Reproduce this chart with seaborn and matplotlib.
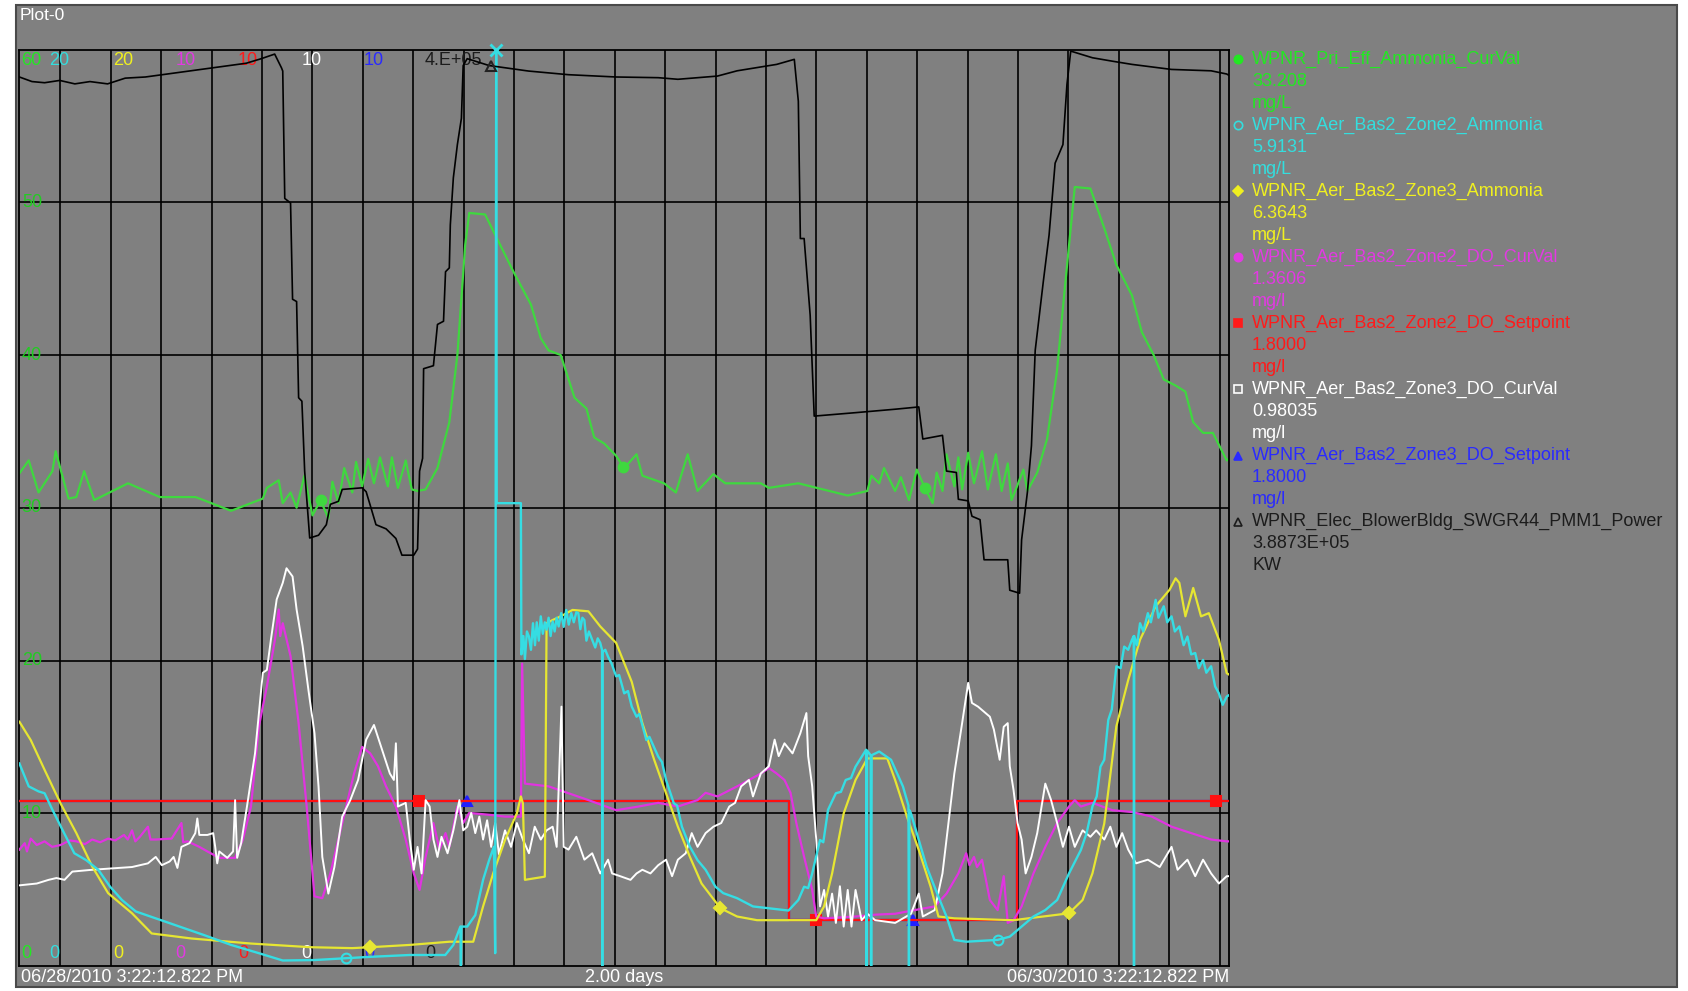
import numpy as np
import pandas as pd
import matplotlib.pyplot as plt
import seaborn as sns
from matplotlib.lines import Line2D
from matplotlib.patches import Rectangle
from matplotlib.transforms import blended_transform_factory

plt.rcParams['font.family'] = ['Liberation Sans', 'DejaVu Sans']

# time window of the trend, x axis is hours since the start
start_label = '06/28/2010 3:22:12.822 PM'
end_label = '06/30/2010 3:22:12.822 PM'
span_label = '2.00 days'
span_hours = 48
first_grid_hour = (17 * 3600 - (15 * 3600 + 22 * 60 + 12.822)) / 3600  # 5:00 PM

# (hours, value)
pri_ammonia = [(0, 32.25), (0.37, 33.1), (0.76, 31.0), (1.31, 32.4), (1.44, 33.7), (1.95, 30.6), (2.26, 30.7),
               (2.57, 32.4), (2.97, 30.5), (4.31, 31.6), (5.57, 30.7), (6.99, 30.7), (8.4, 29.8), (9.66, 30.6),
               (9.82, 31.3), (10.29, 31.8), (10.45, 30.3), (10.76, 31.0), (11.0, 30.0), (11.31, 32.1), (11.63, 29.5),
               (11.95, 30.5), (12.26, 29.3), (12.42, 31.7), (12.66, 30.3), (12.89, 32.6), (13.21, 31.0), (13.36, 33.0),
               (13.6, 31.4), (13.84, 33.2), (14.07, 31.6), (14.31, 33.3), (14.62, 31.4), (14.78, 33.3), (15.02, 31.3),
               (15.33, 33.1), (15.57, 31.2), (15.8, 31.1), (16.12, 31.2), (16.59, 32.6), (17.06, 35.6), (17.38, 40.0),
               (17.69, 47.2), (17.85, 49.3), (18.48, 49.2), (18.96, 47.6), (19.59, 45.5), (20.3, 43.3), (20.69, 41.1),
               (21.0, 40.3), (21.48, 40.0), (22.03, 37.2), (22.5, 36.5), (22.81, 34.6), (23.21, 34.2), (23.68, 33.4),
               (24.0, 32.6), (24.49, 33.5), (24.72, 32.1), (25.58, 31.6), (26.05, 31.0), (26.52, 33.5), (26.91, 31.1),
               (27.54, 32.2), (28.01, 31.6), (29.42, 31.6), (29.74, 31.3), (30.91, 31.6), (32.87, 30.8), (33.65, 31.1),
               (33.81, 32.1), (34.12, 31.6), (34.31, 32.6), (34.75, 31.1), (34.98, 32.0), (35.3, 30.5), (35.61, 32.5),
               (35.93, 31.3), (36.24, 30.3), (36.4, 32.3), (36.63, 31.1), (36.79, 33.5), (37.1, 31.4), (37.26, 33.3),
               (37.41, 31.2), (37.65, 33.6), (37.88, 31.6), (38.2, 33.7), (38.43, 31.2), (38.75, 33.5), (38.98, 31.1),
               (39.22, 32.9), (39.37, 30.5), (39.61, 31.5), (39.84, 32.5), (40.0, 31.1), (40.39, 32.3), (40.78, 34.5),
               (41.17, 38.9), (41.48, 44.3), (41.88, 51.0), (42.5, 50.9), (43.05, 48.3), (43.53, 45.9), (44.15, 43.9),
               (44.54, 41.5), (45.01, 40.0), (45.41, 38.4), (45.88, 38.0), (46.27, 37.6), (46.58, 35.6), (46.97, 34.9),
               (47.36, 34.9), (47.91, 33.1), (48.0, 33.2)]

z2_ammonia = [(0, 4.42), (0.37, 3.92), (0.76, 3.81), (1.0, 3.77), (1.31, 3.41), (1.71, 2.97), (2.18, 2.46), (2.65, 2.31),
              (3.13, 2.10), (3.6, 1.73), (4.07, 1.44), (4.62, 1.19), (5.41, 1.04), (6.35, 0.86), (7.3, 0.68), (8.4, 0.46),
              (9.5, 0.28), (10.45, 0.12), (11.71, 0.13), (12.97, 0.17), (13.92, 0.20), (15.49, 0.24), (16.9, 0.24),
              (17.22, 0.46), (17.5, 0.86), (17.52, 0.0), (17.54, 0.86), (17.77, 0.86), (18.09, 1.11), (18.4, 1.88),
              (18.64, 2.31), (18.83, 2.6), (18.88, 0.28), (18.92, 20.0), (18.94, 10.1), (19.9, 10.1), (19.92, 6.8),
              (20.0, 7.2), (20.06, 6.7), (20.14, 7.3), (20.22, 7.19), (20.3, 6.9), (20.38, 7.48), (20.46, 7.0),
              (20.53, 7.5), (20.61, 7.1), (20.69, 7.63), (20.77, 7.25), (20.85, 7.5), (20.92, 7.34), (21.0, 7.6),
              (21.08, 7.2), (21.16, 7.52), (21.24, 7.3), (21.32, 7.6), (21.4, 7.41), (21.5, 7.7), (21.6, 7.4),
              (21.7, 7.77), (21.8, 7.45), (21.9, 7.7), (22.0, 7.5), (22.1, 7.72), (22.18, 7.70), (22.26, 7.35),
              (22.34, 7.6), (22.42, 7.55), (22.5, 7.1), (22.6, 7.3), (22.73, 7.12), (22.85, 6.95), (22.95, 7.15),
              (23.05, 7.05), (23.12, 6.9), (23.13, 0.0), (23.14, 6.85), (23.25, 6.9), (23.36, 6.75), (23.5, 6.6),
              (23.68, 6.32), (23.8, 6.35), (24.0, 5.95), (24.15, 6.0), (24.3, 5.66), (24.49, 5.44), (24.6, 5.5),
              (24.88, 4.93), (25.0, 5.0), (25.35, 4.57), (25.5, 4.45), (25.66, 4.06), (25.97, 3.55), (26.1, 3.5),
              (26.29, 3.04), (26.6, 2.61), (26.91, 2.31), (27.23, 2.10), (27.62, 1.73), (27.93, 1.59), (28.48, 1.48),
              (29.11, 1.30), (30.05, 1.24), (30.52, 1.21), (30.91, 1.44), (31.14, 1.73), (31.3, 1.7), (31.46, 2.02),
              (31.77, 2.75), (31.9, 2.7), (32.09, 3.41), (32.4, 3.77), (32.6, 3.8), (32.79, 4.06), (33.0, 4.1),
              (33.18, 4.35), (33.6, 4.72), (33.62, 0.0), (33.64, 4.7), (33.78, 4.6), (33.8, 0.0), (33.82, 4.6),
              (34.12, 4.68), (34.59, 4.50), (35.06, 3.92), (35.28, 3.5), (35.3, 0.0), (35.32, 3.4), (35.38, 3.33),
              (35.69, 2.75), (36.0, 2.17), (36.47, 1.51), (36.79, 1.08), (37.1, 0.57), (37.57, 0.53), (38.82, 0.57),
              (39.3, 0.64), (39.77, 0.86), (40.24, 1.08), (40.71, 1.22), (41.18, 1.44), (41.65, 2.02), (42.12, 2.53),
              (42.35, 2.9), (42.58, 3.48), (42.75, 3.7), (42.9, 4.35), (43.05, 4.5), (43.21, 5.37), (43.35, 5.6),
              (43.53, 6.54), (43.7, 6.5), (43.84, 6.97), (44.0, 6.9), (44.15, 7.12), (44.22, 7.2), (44.23, 0.0),
              (44.24, 7.2), (44.35, 7.0), (44.47, 7.48), (44.6, 7.3), (44.78, 7.70), (44.9, 7.5), (45.09, 7.99),
              (45.2, 7.6), (45.41, 7.85), (45.55, 7.5), (45.72, 7.63), (45.85, 7.3), (46.03, 7.41), (46.2, 7.0),
              (46.35, 7.19), (46.5, 6.8), (46.66, 6.83), (46.8, 6.5), (46.97, 6.68), (47.1, 6.4), (47.29, 6.54),
              (47.45, 6.1), (47.6, 5.95), (47.75, 5.7), (47.91, 5.88), (48.0, 5.91)]

z3_ammonia = [(0, 5.33), (0.45, 4.93), (1.0, 4.28), (1.63, 3.55), (2.26, 2.90), (2.89, 2.17), (3.52, 1.59), (4.47, 1.15),
              (5.25, 0.71), (6.83, 0.60), (9.19, 0.49), (11.55, 0.41), (13.21, 0.39), (13.92, 0.41), (15.49, 0.46),
              (17.07, 0.53), (18.01, 0.53), (18.4, 1.30), (18.8, 2.02), (19.27, 2.75), (19.74, 3.33), (19.9, 3.70),
              (19.98, 3.55), (20.06, 1.88), (20.85, 1.95), (20.92, 7.48), (21.16, 7.55), (21.48, 7.63), (21.95, 7.77),
              (22.58, 7.74), (23.05, 7.41), (23.68, 7.05), (24.3, 6.2), (24.72, 5.30), (25.19, 4.50), (25.66, 3.77),
              (26.13, 3.04), (26.6, 2.39), (27.07, 1.80), (27.82, 1.26), (28.48, 1.08), (29.27, 1.00), (31.62, 1.00),
              (31.93, 1.30), (32.25, 2.02), (32.71, 3.33), (33.18, 4.06), (33.65, 4.53), (34.44, 4.53), (34.75, 4.06),
              (35.22, 3.26), (35.69, 2.53), (36.16, 1.73), (36.47, 1.08), (37.1, 1.04), (39.45, 1.00), (41.65, 1.15),
              (42.19, 1.44), (42.58, 2.02), (43.05, 3.11), (43.53, 5.23), (44.0, 6.24), (44.47, 7.12), (45.09, 7.85),
              (45.64, 8.21), (45.88, 8.46), (46.03, 8.36), (46.27, 7.63), (46.58, 8.25), (46.89, 7.63), (47.2, 7.70),
              (47.6, 7.12), (47.91, 6.39), (48.0, 6.36)]

z2_do = [(0, 1.27), (0.21, 1.34), (0.3, 1.25), (0.45, 1.39), (0.69, 1.32), (1.0, 1.36), (1.3, 1.3), (1.63, 1.32),
         (2.0, 1.37), (2.26, 1.36), (2.6, 1.33), (2.89, 1.38), (3.2, 1.35), (3.52, 1.39), (3.8, 1.37), (4.15, 1.43),
         (4.3, 1.38), (4.47, 1.48), (4.6, 1.36), (4.78, 1.41), (5.1, 1.52), (5.2, 1.38), (5.41, 1.38), (6.04, 1.39),
         (6.43, 1.56), (6.5, 1.35), (6.67, 1.36), (7.14, 1.30), (7.46, 1.25), (7.93, 1.18), (8.56, 1.18), (8.87, 1.38),
         (9.19, 1.74), (9.5, 2.61), (9.82, 3.05), (10.14, 3.56), (10.29, 3.89), (10.35, 3.6), (10.45, 3.74),
         (10.76, 3.38), (11.08, 2.65), (11.4, 1.74), (11.71, 0.76), (12.02, 0.74), (12.34, 1.01), (12.81, 1.56),
         (13.28, 2.10), (13.6, 2.39), (13.92, 2.32), (14.23, 2.18), (14.55, 1.96), (14.94, 1.74), (15.33, 1.38),
         (15.65, 1.01), (15.88, 0.83), (16.12, 1.19), (16.43, 1.56), (16.67, 1.27), (16.91, 1.45), (17.06, 1.30),
         (17.38, 1.74), (17.61, 1.56), (17.85, 1.67), (18.64, 1.65), (19.27, 1.63), (19.9, 1.63), (19.95, 3.30),
         (20.06, 1.99), (21.0, 1.96), (22.58, 1.81), (23.68, 1.70), (24.57, 1.74), (25.35, 1.78), (26.13, 1.74),
         (26.91, 1.81), (27.23, 1.89), (27.7, 1.85), (28.48, 1.96), (28.95, 2.03), (29.42, 2.10), (29.74, 2.16),
         (30.05, 2.10), (30.36, 2.03), (30.6, 1.89), (30.83, 1.56), (31.14, 1.19), (31.46, 0.83), (31.62, 0.54),
         (31.93, 0.52), (33.18, 0.54), (33.96, 0.56), (34.75, 0.57), (35.53, 0.61), (36.32, 0.65), (36.79, 0.79),
         (37.26, 1.01), (37.57, 1.23), (37.7, 1.1), (37.88, 1.19), (38.0, 1.08), (38.2, 1.16), (38.51, 0.72),
         (38.82, 0.61), (39.06, 0.98), (39.22, 0.47), (39.45, 0.50), (39.77, 0.65), (40.24, 1.01), (40.71, 1.30),
         (41.18, 1.56), (41.65, 1.74), (41.88, 1.81), (42.12, 1.74), (42.58, 1.78), (43.37, 1.70), (44.15, 1.68),
         (44.94, 1.63), (45.72, 1.52), (46.5, 1.45), (47.29, 1.38), (47.91, 1.36), (48.0, 1.36)]

z2_setpoint = [(0, 1.8), (30.55, 1.8), (30.55, 0.5), (39.58, 0.5), (39.58, 1.8), (48.0, 1.8)]
z3_setpoint = [(0, 1.8), (30.55, 1.8), (30.55, 0.5), (39.58, 0.5), (39.58, 1.8), (48.0, 1.8)]

z3_do = [(0, 0.88), (0.69, 0.90), (1.16, 0.94), (1.47, 0.96), (1.79, 0.94), (2.1, 1.03), (2.89, 1.05), (4.47, 1.08),
         (5.1, 1.12), (5.41, 1.19), (5.65, 1.10), (5.96, 1.14), (6.12, 1.19), (6.27, 1.07), (6.43, 1.30), (6.75, 1.34),
         (6.98, 1.45), (7.06, 1.61), (7.14, 1.43), (7.46, 1.43), (7.69, 1.45), (7.77, 1.30), (7.85, 1.12), (7.93, 1.25),
         (8.25, 1.18), (8.48, 1.25), (8.56, 1.81), (8.64, 1.18), (8.8, 1.34), (9.03, 1.74), (9.35, 2.32), (9.66, 3.20),
         (9.82, 3.23), (9.98, 3.56), (10.21, 4.00), (10.45, 4.18), (10.6, 4.34), (10.84, 4.25), (11.0, 3.89),
         (11.24, 3.49), (11.47, 3.01), (11.71, 2.54), (11.87, 1.96), (12.02, 1.19), (12.26, 0.79), (12.5, 1.08),
         (12.81, 1.63), (13.13, 1.81), (13.44, 2.03), (13.76, 2.47), (14.07, 2.63), (14.39, 2.36), (14.7, 2.10),
         (14.86, 2.03), (14.94, 2.43), (15.02, 1.74), (15.33, 1.78), (15.49, 1.38), (15.65, 1.05), (15.8, 1.30),
         (15.96, 1.01), (16.12, 1.81), (16.28, 1.74), (16.43, 1.38), (16.59, 1.19), (16.75, 1.41), (16.99, 1.23),
         (17.22, 1.48), (17.46, 1.81), (17.61, 1.48), (17.77, 1.52), (17.93, 1.67), (18.09, 1.45), (18.25, 1.63),
         (18.4, 1.38), (18.56, 1.59), (18.72, 1.30), (18.88, 1.56), (19.03, 1.22), (19.27, 1.48), (19.51, 1.30),
         (19.74, 1.56), (19.98, 1.38), (20.22, 1.23), (20.45, 1.52), (20.69, 1.38), (20.92, 1.48), (21.16, 1.52),
         (21.32, 1.30), (21.51, 2.83), (21.6, 1.30), (21.79, 1.27), (22.1, 1.41), (22.42, 1.16), (22.73, 1.23),
         (23.05, 1.01), (23.36, 1.16), (23.52, 1.01), (23.84, 0.98), (24.25, 0.94), (24.49, 1.01), (24.72, 1.05),
         (25.04, 1.01), (25.35, 1.10), (25.66, 1.16), (25.9, 0.98), (26.13, 1.16), (26.44, 1.23), (26.68, 1.45),
         (26.91, 1.30), (27.23, 1.45), (27.54, 1.52), (27.85, 1.56), (28.17, 1.74), (28.4, 1.78), (28.64, 1.96),
         (28.95, 2.03), (29.11, 1.85), (29.42, 2.10), (29.74, 2.18), (29.97, 2.47), (30.13, 2.29), (30.36, 2.43),
         (30.68, 2.32), (30.99, 2.54), (31.23, 2.76), (31.3, 2.29), (31.46, 1.96), (31.62, 1.38), (31.77, 0.65),
         (31.93, 0.83), (32.09, 0.54), (32.25, 0.79), (32.4, 0.47), (32.56, 0.87), (32.71, 0.43), (32.87, 0.83),
         (33.02, 0.43), (33.18, 0.83), (33.42, 0.50), (33.65, 0.57), (33.96, 0.50), (34.75, 0.47), (35.38, 0.57),
         (35.69, 0.79), (35.85, 0.54), (36.32, 0.61), (36.63, 1.01), (37.1, 2.10), (37.41, 2.65), (37.65, 3.09),
         (37.8, 2.87), (38.04, 2.83), (38.51, 2.72), (38.67, 2.58), (38.9, 2.25), (39.06, 2.61), (39.22, 2.65),
         (39.3, 2.18), (39.45, 1.92), (39.61, 1.56), (39.77, 1.38), (39.93, 1.01), (40.16, 1.19), (40.39, 1.45),
         (40.71, 1.99), (40.94, 1.81), (41.18, 1.56), (41.41, 1.30), (41.65, 1.52), (41.88, 1.30), (42.19, 1.48),
         (42.5, 1.41), (42.73, 1.48), (43.05, 1.38), (43.29, 1.52), (43.53, 1.30), (43.76, 1.45), (44.0, 1.27),
         (44.31, 1.12), (44.78, 1.16), (45.25, 1.08), (45.72, 1.30), (45.96, 1.05), (46.35, 1.16), (46.66, 0.98),
         (46.97, 1.16), (47.29, 1.01), (47.6, 0.90), (47.91, 0.98), (48.0, 0.98)]

# blower building power, kW
blower_kw = [(0, 388.0e3), (0.5, 386.0e3), (1.0, 385.5e3), (1.6, 386.5e3), (2.2, 385.0e3), (2.8, 386.0e3), (3.5, 385.0e3),
             (4.2, 387.5e3), (5.0, 388.0e3), (6.0, 389.5e3), (7.0, 391.0e3), (8.0, 392.5e3), (9.0, 394.0e3),
             (9.6, 396.0e3), (10.13, 398.0e3), (10.4, 392.0e3), (10.45, 390.6e3), (10.53, 335.0e3), (10.76, 333.0e3),
             (10.84, 291.0e3), (11.0, 290.0e3), (11.08, 248.0e3), (11.21, 246.5e3), (11.32, 216.0e3), (11.52, 186.8e3),
             (11.87, 188.0e3), (12.18, 192.6e3), (12.34, 201.5e3), (12.66, 202.8e3), (12.81, 208.0e3), (13.6, 208.7e3),
             (13.76, 207.0e3), (13.91, 201.5e3), (14.15, 192.6e3), (14.55, 190.8e3), (14.94, 186.6e3), (15.18, 179.3e3),
             (15.65, 179.3e3), (15.8, 182.0e3), (15.88, 216.0e3), (16.0, 221.6e3), (16.04, 260.7e3), (16.43, 262.0e3),
             (16.59, 280.0e3), (16.83, 281.4e3), (16.91, 303.0e3), (17.06, 304.7e3), (17.1, 323.5e3), (17.22, 344.0e3),
             (17.38, 358.5e3), (17.54, 370.0e3), (17.61, 393.0e3), (17.77, 396.0e3), (18.64, 393.0e3), (20.2, 390.6e3),
             (21.79, 389.0e3), (23.68, 388.0e3), (25.35, 387.7e3), (26.13, 387.0e3), (27.7, 388.4e3), (28.48, 390.7e3),
             (30.05, 393.5e3), (30.75, 395.7e3), (30.91, 377.4e3), (30.99, 317.5e3), (31.14, 317.5e3), (31.38, 284.0e3),
             (31.54, 240.0e3), (33.18, 241.5e3), (34.75, 243.0e3), (35.69, 244.0e3), (35.85, 230.0e3), (36.63, 231.6e3),
             (36.79, 216.0e3), (37.18, 215.4e3), (37.26, 203.7e3), (37.65, 203.0e3), (37.8, 196.3e3), (38.12, 194.8e3),
             (38.28, 177.3e3), (39.22, 177.3e3), (39.3, 164.0e3), (39.69, 162.7e3), (39.77, 186.0e3), (40.0, 206.8e3),
             (40.16, 227.0e3), (40.31, 268.7e3), (40.63, 298.6e3), (40.86, 319.0e3), (41.1, 350.4e3), (41.41, 358.5e3),
             (41.57, 384.8e3), (41.72, 399.3e3), (42.58, 396.4e3), (43.37, 394.9e3), (44.15, 393.5e3), (45.72, 391.3e3),
             (47.29, 390.7e3), (47.91, 389.3e3), (48.0, 388.7e3)]

# where each trace shows its symbol (hours)
pri_marks = [11.95, 23.97, 35.93]
z2_amm_marks = [12.97, 38.82]
z3_amm_marks = [13.92, 27.82, 41.65]
z2_sp_marks = [15.84, 31.62, 47.47]
z3_sp_marks = [17.77, 35.46]
power_marks = [18.7]

# legend block: tag, last value, unit
tags = ['WPNR_Pri_Eff_Ammonia_CurVal', 'WPNR_Aer_Bas2_Zone2_Ammonia', 'WPNR_Aer_Bas2_Zone3_Ammonia',
        'WPNR_Aer_Bas2_Zone2_DO_CurVal', 'WPNR_Aer_Bas2_Zone2_DO_Setpoint', 'WPNR_Aer_Bas2_Zone3_DO_CurVal',
        'WPNR_Aer_Bas2_Zone3_DO_Setpoint', 'WPNR_Elec_BlowerBldg_SWGR44_PMM1_Power']
last_values = ['33.208', '5.9131', '6.3643', '1.3606', '1.8000', '0.98035', '1.8000', '3.8873E+05']
units = ['mg/L', 'mg/L', 'mg/L', 'mg/l', 'mg/l', 'mg/l', 'mg/l', 'KW']
scale_top = ['60', '20', '20', '10', '10', '10', '10', '4.E+05']
scale_bottom = ['0', '0', '0', '0', '0', '0', '0', '0']
scale_max = [60, 20, 20, 10, 10, 10, 10, 4e5]
grid_values = [10, 20, 30, 40, 50]

# ---- styles ----
line_colors = ['#3fd83f', '#35dde3', '#e6e632', '#e034e0', '#ff1010', '#ffffff', '#2020ff', '#000000']
text_colors = ['#22e822', '#33dede', '#f0f020', '#e23ae2', '#ff1a1a', '#ffffff', '#2a2aff', '#1c1c1c']
legend_markers = [('o', True), ('o', False), ('D', True), ('o', True), ('s', True), ('s', False), ('^', True), ('^', False)]
gray = '#808080'

W, H = 1688, 991
fig = plt.figure(figsize=(W / 100, H / 100), dpi=100, facecolor='white')


def fx(px):
    return px / W


def fy(py):
    return 1 - py / H


fig.add_artist(Rectangle((fx(16), fy(987)), fx(1677) - fx(16), fy(5) - fy(987), transform=fig.transFigure,
                         facecolor=gray, edgecolor='#4a4a4a', lw=1.5, zorder=0))
fig.text(fx(20), fy(16), 'Plot-0', color='white', fontsize=12.5, va='center', ha='left')

ax = fig.add_axes([fx(19.4), fy(966), fx(1229) - fx(19.4), fy(49.5) - fy(966)])
ax.set_facecolor(gray)


def frame(data):
    return pd.DataFrame(data, columns=['hours', 'value'])


def trace(a, data, color, lw, ymax):
    sns.lineplot(data=frame(data), x='hours', y='value', ax=a, color=color, lw=lw,
                 estimator=None, sort=False, legend=False)
    a.set_xlim(0, span_hours)
    a.set_ylim(0, ymax)


def overlay():
    a = fig.add_axes(ax.get_position(), sharex=ax)
    a.set_axis_off()
    return a


def marks(a, data, times, marker, color, filled, size=7):
    t, v = zip(*data)
    y = np.interp(times, t, v)
    a.plot(times, y, ls='none', marker=marker, ms=size, color=color,
           mfc=color if filled else 'none', mec=color, mew=1.5, clip_on=False)


# base axes carries the primary ammonia scale (0-60) and the grid
trace(ax, pri_ammonia, line_colors[0], 1.6, scale_max[0])
ax.set_xticks(np.arange(first_grid_hour, span_hours, 2))
ax.set_yticks(grid_values)
ax.grid(True, color='black', lw=1.2)
ax.set_axisbelow(True)
ax.tick_params(length=0, labelbottom=False, labelleft=False)
ax.set_xlabel('')
ax.set_ylabel('')
for s in ax.spines.values():
    s.set_color('black')
    s.set_linewidth(1.3)

a_blue = overlay()
trace(a_blue, z3_setpoint, line_colors[6], 1.6, scale_max[6])
marks(a_blue, z3_setpoint, z3_sp_marks, '^', line_colors[6], True)

a_red = overlay()
trace(a_red, z2_setpoint, line_colors[4], 1.6, scale_max[4])
marks(a_red, z2_setpoint, z2_sp_marks, 's', line_colors[4], True)

a_mag = overlay()
trace(a_mag, z2_do, line_colors[3], 1.6, scale_max[3])

a_white = overlay()
trace(a_white, z3_do, line_colors[5], 1.4, scale_max[5])

a_yel = overlay()
trace(a_yel, z3_ammonia, line_colors[2], 1.6, scale_max[2])
marks(a_yel, z3_ammonia, z3_amm_marks, 'D', line_colors[2], True, 6)

a_cyan = overlay()
trace(a_cyan, z2_ammonia, line_colors[1], 1.7, scale_max[1])
marks(a_cyan, z2_ammonia, z2_amm_marks, 'o', line_colors[1], False)
spike = max(z2_ammonia, key=lambda p: p[1])
a_cyan.plot([spike[0]], [spike[1]], ls='none', marker='x', ms=8, mew=2, color=line_colors[1], clip_on=False)

a_green = overlay()
a_green.set_ylim(0, scale_max[0])
marks(a_green, pri_ammonia, pri_marks, 'o', line_colors[0], True)

a_black = overlay()
trace(a_black, blower_kw, line_colors[7], 1.2, scale_max[7])
marks(a_black, blower_kw, power_marks, '^', '#222222', False, 7)

# scale labels along the top and bottom of the plot
tr = blended_transform_factory(ax.transAxes, ax.transAxes)
scale_x = [21.5, 49.5, 113, 175.5, 238, 301.5, 364, 425]
x0, x1 = 19.4, 1229
for i in range(len(scale_top)):
    xa = (scale_x[i] - x0) / (x1 - x0)
    ax.text(xa, 0.988, scale_top[i], transform=tr, color=text_colors[i], fontsize=13, ha='left', va='center')
    ax.text(xa, 0.0135, scale_bottom[i], transform=tr, color=text_colors[i], fontsize=13, ha='left', va='center')

# primary axis value labels inside the plot
ytr = blended_transform_factory(ax.transAxes, ax.transData)
for v in grid_values:
    ax.text(0.002, v, str(v), transform=ytr, color='#22cc22', fontsize=13, ha='left', va='center')

# time labels under the plot
fig.text(fx(21), fy(977), start_label, color='white', fontsize=13, ha='left', va='center')
fig.text(fx(624), fy(977), span_label, color='white', fontsize=13, ha='center', va='center')
fig.text(fx(1229), fy(977), end_label, color='white', fontsize=13, ha='right', va='center')

# legend block at the right
line_h = 22.03
for i, tag in enumerate(tags):
    y0 = 59 + i * 3 * line_h
    mk, filled = legend_markers[i]
    col = text_colors[i]
    fig.add_artist(Line2D([fx(1238)], [fy(y0)], transform=fig.transFigure, ls='none', marker=mk,
                          ms=6 if mk != 'D' else 5, color=col, mfc=col if filled else 'none', mec=col, mew=1.2))
    for j, txt in enumerate([tag, last_values[i], units[i]]):
        fig.text(fx(1252), fy(y0 + j * line_h), txt, color=col, fontsize=13, ha='left', va='center')

fig.savefig('out.png', dpi=100, facecolor='white')
